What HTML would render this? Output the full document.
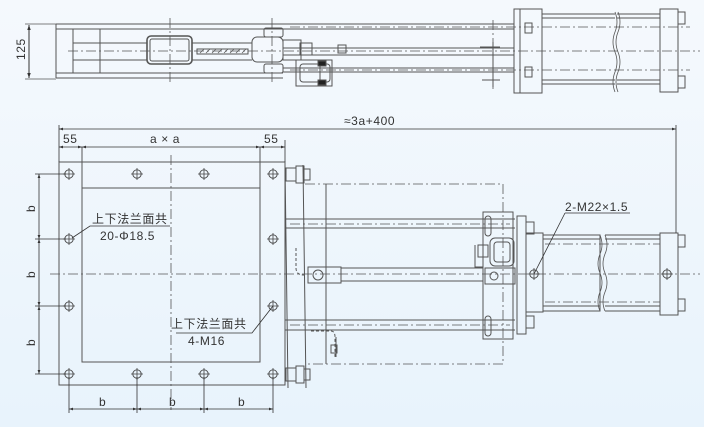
<!DOCTYPE html>
<html><head><meta charset="utf-8"><style>
html,body{margin:0;padding:0;width:704px;height:427px;overflow:hidden;background:linear-gradient(#f5f9fd,#e8f3fc);}
svg{display:block}
text{font-family:"Liberation Sans","Noto Sans CJK SC",sans-serif;fill:#333;letter-spacing:0.6px;}
</style></head><body>
<svg width="704" height="427" viewBox="0 0 704 427" xmlns="http://www.w3.org/2000/svg">
<defs>
<marker id="a" viewBox="0 0 10 10" refX="10" refY="5" markerWidth="7" markerHeight="5" orient="auto-start-reverse"><path d="M0,1.5L10,5L0,8.5z" fill="#333"/></marker>
<g id="hole"><circle r="4.2" fill="none" stroke="#444" stroke-width="0.9"/><path d="M-6,0H6M0,-6V6" stroke="#444" stroke-width="0.8"/></g>
</defs>
<g fill="none" stroke="#555" stroke-width="1">
<path d="M56,24H283M56,29H283M56,73H283M56,78H283"/>
<path d="M56,24V78M73,29V73M100,29V73M73,43H147M73,60H147M192,43H252M192,60H252"/>
<rect x="147" y="36" width="45" height="28" rx="4" stroke-width="1.6"/>
<rect x="150" y="39" width="39" height="22" rx="2"/>
<rect x="197" y="49" width="51" height="5"/>
<path d="M200,53l4,-4M206,53l4,-4M212,53l4,-4M218,53l4,-4M224,53l4,-4M230,53l4,-4M236,53l4,-4M242,53l4,-4" stroke-width="0.7"/>
<rect x="252" y="37" width="31" height="25" rx="5"/>
<rect x="264" y="28" width="19" height="9" rx="2"/><rect x="264" y="64" width="19" height="9" rx="2"/>
<path d="M283,24H514M283,29H514M283,48H514M283,55H514M283,68H514M283,72H514"/>
<rect x="283" y="40" width="18" height="20"/><rect x="300" y="43" width="12" height="12"/>
<rect x="296" y="60" width="36" height="26"/><rect x="300" y="64" width="20" height="18" rx="3"/>
<rect x="320" y="64" width="10" height="18" rx="3"/>
<rect x="318" y="61" width="8" height="5" fill="#222"/><rect x="318" y="80" width="8" height="5" fill="#222"/>
<rect x="338" y="45" width="8" height="8"/>
<path d="M480,47H500M493,42V87M482,80H500"/>
<rect x="514" y="9" width="28" height="84"/><path d="M520,9V93"/>
<rect x="525" y="23" width="7" height="10"/><rect x="525" y="67" width="7" height="10"/>
<path d="M542,14H615M542,18H615M542,80H615M542,84H615M617,14H660M617,18H660M617,80H660M617,84H660"/>
<path d="M615,12q4,10 0,20q-4,10 0,20q4,10 0,20q-4,10 0,20M618,12q4,10 0,20q-4,10 0,20q4,10 0,20q-4,10 0,20" stroke-width="0.8"/>
<rect x="660" y="9" width="18" height="83"/><rect x="678" y="12" width="7" height="12"/><rect x="678" y="76" width="7" height="12"/>
<path d="M678,33V68"/>
<path d="M25,24H56M25,79H56" stroke-width="0.8"/>
<path d="M29,25V78" stroke="#333" marker-start="url(#a)" marker-end="url(#a)"/>
</g>
<g stroke="#555" stroke-width="0.8" stroke-dasharray="10,3,2,3" fill="none">
<path d="M68,51H700M170,18V84M272,18V84M493,20V90M290,27H690M290,70H690"/>
</g>
<text x="0" y="0" font-size="12" transform="translate(25,60) rotate(-90)">125</text>

<g fill="none" stroke="#555" stroke-width="1">
<rect x="59" y="162" width="226" height="223"/>
<path d="M82,147V188M260,147V188M82,188H260V362H82Z"/>
<path d="M285,165L288,388M303,165L306,388M326,184V364"/>
<rect x="286" y="168" width="10" height="13"/><rect x="296" y="166" width="8" height="17"/><rect x="304" y="169" width="6" height="11"/>
<rect x="286" y="368" width="10" height="13"/><rect x="296" y="366" width="8" height="17"/><rect x="304" y="369" width="6" height="11"/>
<path d="M285,219H515M285,228H515M285,320H515M285,330H515"/>
<rect x="308" y="267" width="33" height="16"/><circle cx="318" cy="275" r="5"/>
<path d="M341,268H483M341,281H483"/>
<path d="M296,248v20q0,7 8,7" stroke-dasharray="3,2"/>
<path d="M311,331h20q4,0 4,6v20" stroke-dasharray="3,2"/><path d="M336,337v20M331,345h6v8h-6z"/>
<rect x="483" y="212" width="30" height="127"/>
<rect x="485" y="216" width="6" height="20" rx="3"/><rect x="485" y="316" width="6" height="20" rx="3"/>
<rect x="485" y="268" width="30" height="16"/><circle cx="494" cy="276" r="4"/>
<rect x="490" y="238" width="24" height="28" rx="5"/><rect x="494" y="242" width="16" height="20" rx="3"/>
<rect x="478" y="245" width="10" height="12"/><path d="M475,245v22h8"/>
<rect x="517" y="216" width="9" height="118"/>
<rect x="526" y="222" width="8" height="12"/><rect x="526" y="316" width="8" height="12"/>
<rect x="526" y="233" width="17" height="79"/>
<rect x="543" y="235" width="57" height="76"/>
<path d="M543,239H600M543,306H600M605,235H660M605,239H660M605,306H660M605,311H660"/>
<path d="M600,235q4,10 0,19q-4,10 0,19q4,10 0,19q-4,10 0,19M605,235q4,10 0,19q-4,10 0,19q4,10 0,19q-4,10 0,19" stroke-width="0.8"/>
<rect x="660" y="233" width="18" height="82"/><rect x="678" y="235" width="7" height="12"/><rect x="678" y="299" width="7" height="12"/>
<path d="M678,250V300"/>
</g>
<g stroke="#555" stroke-width="0.8" stroke-dasharray="10,3,2,3" fill="none">
<path d="M50,274H700M171,155V410"/>
<path d="M305,184H503V364H305"/>
<path d="M290,224H510M290,325H510M545,244H660M545,302H660"/>
</g>
<use href="#hole" x="69" y="174"/><use href="#hole" x="137" y="174"/><use href="#hole" x="204" y="174"/><use href="#hole" x="273" y="174"/>
<use href="#hole" x="69" y="239"/><use href="#hole" x="273" y="239"/>
<use href="#hole" x="69" y="306"/><use href="#hole" x="273" y="306"/>
<use href="#hole" x="69" y="374"/><use href="#hole" x="137" y="374"/><use href="#hole" x="204" y="374"/><use href="#hole" x="273" y="374"/>
<use href="#hole" x="534" y="274"/><use href="#hole" x="667" y="274"/>

<g stroke="#333" stroke-width="0.8" fill="none">
<path d="M59,125V162M676,125V233"/>
<path d="M59,129H676" marker-start="url(#a)" marker-end="url(#a)" />
<path d="M59,147H82" marker-start="url(#a)" marker-end="url(#a)"/>
<path d="M82,147H260" marker-start="url(#a)" marker-end="url(#a)"/>
<path d="M260,147H285" marker-start="url(#a)" marker-end="url(#a)"/>
<path d="M285,140V162"/>
<path d="M35,174H66M35,239H66M35,306H66M35,374H66"/>
<path d="M39,174V239" marker-start="url(#a)" marker-end="url(#a)"/>
<path d="M39,239V306" marker-start="url(#a)" marker-end="url(#a)"/>
<path d="M39,306V374" marker-start="url(#a)" marker-end="url(#a)"/>
<path d="M69,377V413M137,377V413M204,377V413M273,377V413"/>
<path d="M69,409H137" marker-start="url(#a)" marker-end="url(#a)"/>
<path d="M137,409H204" marker-start="url(#a)" marker-end="url(#a)"/>
<path d="M204,409H273" marker-start="url(#a)" marker-end="url(#a)"/>
<path d="M72,238L90,226H170M176,333H252L273,306M565,213H630M565,213L534,274"/>
</g>
<text x="63" y="143" font-size="12">55</text>
<text x="150" y="143" font-size="12">a × a</text>
<text x="264" y="143" font-size="12">55</text>
<text x="344" y="125" font-size="12">≈3a+400</text>
<text x="565" y="211" font-size="12">2-M22×1.5</text>
<text font-size="12" transform="translate(35,212) rotate(-90)">b</text>
<text font-size="12" transform="translate(35,278) rotate(-90)">b</text>
<text font-size="12" transform="translate(35,346) rotate(-90)">b</text>
<text x="99" y="406" font-size="12">b</text>
<text x="169" y="406" font-size="12">b</text>
<text x="238" y="406" font-size="12">b</text>
<text x="92" y="223" font-size="12">上下法兰面共</text>
<text x="100" y="240" font-size="12">20-Φ18.5</text>
<text x="171" y="328" font-size="12">上下法兰面共</text>
<text x="188" y="345" font-size="12">4-M16</text>
</svg>
</body></html>
